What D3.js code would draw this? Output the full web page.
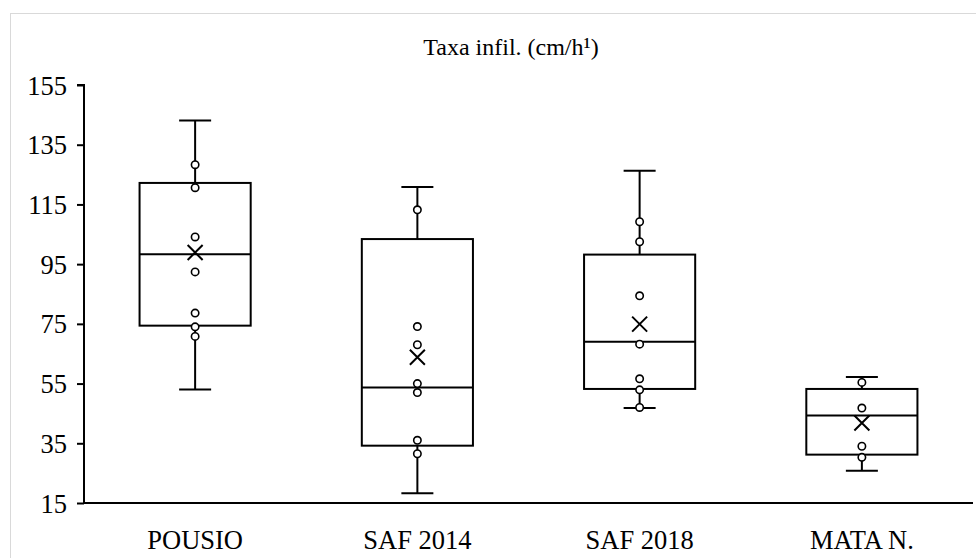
<!DOCTYPE html>
<html>
<head>
<meta charset="utf-8">
<script src="https://cdn.jsdelivr.net/npm/d3@7"></script>
<style>
  html, body { margin: 0; padding: 0; background: #fff; }
  svg { display: block; }
  text { font-family: "Liberation Serif", "Times New Roman", serif; fill: #000; }
</style>
</head>
<body>
<svg id="chart" width="976" height="558"></svg>
<script>
const titleText = "Taxa infil. (cm/h¹)";
const categories = ["POUSIO", "SAF 2014", "SAF 2018", "MATA N."];
const yTicks = [15, 35, 55, 75, 95, 115, 135, 155];

const minValues    = [53.0, 18.3, 46.8, 25.8];
const q1Values     = [74.4, 34.2, 53.2, 31.2];
const medianValues = [98.3, 53.7, 69.0, 44.3];
const q3Values     = [122.2, 103.4, 98.2, 53.2];
const maxValues    = [143.1, 120.8, 126.3, 57.2];
const meanValues   = [98.9, 63.8, 74.9, 41.8];

const pousioPoints  = [128.3, 120.6, 104.1, 92.4, 78.6, 74.0, 70.8];
const saf2014Points = [113.2, 74.1, 68.0, 55.0, 52.0, 36.0, 31.5];
const saf2018Points = [109.2, 102.5, 84.4, 68.2, 56.6, 52.9, 47.0];
const mataPoints    = [55.4, 46.8, 34.0, 30.3];
const innerPoints = [pousioPoints, saf2014Points, saf2018Points, mataPoints];

const svg = d3.select("#chart");
const W = 976, H = 558;
const margin = { left: 84, right: 3, top: 85, bottom: 55 };

// outer chart border
svg.append("rect")
  .attr("x", 10.5).attr("y", 13.5)
  .attr("width", W + 20).attr("height", H + 20)
  .attr("fill", "#fff").attr("stroke", "#d9d9d9").attr("stroke-width", 1);

const x = d3.scaleBand().domain(categories)
  .range([margin.left, W - margin.right]).padding(0);
const y = d3.scaleLinear().domain([15, 155])
  .range([H - margin.bottom, margin.top]);

// title
svg.append("text")
  .attr("x", 511).attr("y", 55)
  .attr("text-anchor", "middle")
  .attr("font-size", 24)
  .text(titleText);

// y axis
const yAxis = svg.append("g")
  .attr("transform", `translate(${margin.left},0)`)
  .call(d3.axisLeft(y).tickValues(yTicks).tickSize(7).tickPadding(10).tickFormat(d3.format("d")));
yAxis.selectAll("path, line").attr("stroke", "#000").attr("stroke-width", 2);
yAxis.select(".domain").attr("d", `M-7,${y(155)}H0V${y(15)}`);
yAxis.selectAll("text").attr("font-size", 26.5).attr("font-family", "Liberation Serif, serif").attr("dy", "0.34em");

// x axis
const xAxis = svg.append("g")
  .attr("transform", `translate(0,${y(15)})`)
  .call(d3.axisBottom(x).tickSize(0).tickPadding(27));
xAxis.select(".domain").attr("stroke", "#000").attr("stroke-width", 2)
  .attr("d", `M${margin.left},0H${W - margin.right}`);
xAxis.selectAll("text").attr("font-size", 26.5).attr("font-family", "Liberation Serif, serif");

const boxHalf = x.bandwidth() * 0.25;
const capHalf = 16;
const stroke = "#000";

categories.forEach((c, i) => {
  const cx = x(c) + x.bandwidth() / 2;
  const g = svg.append("g");
  // whiskers
  g.append("line").attr("x1", cx).attr("x2", cx)
    .attr("y1", y(maxValues[i])).attr("y2", y(q3Values[i]))
    .attr("stroke", stroke).attr("stroke-width", 2);
  g.append("line").attr("x1", cx).attr("x2", cx)
    .attr("y1", y(q1Values[i])).attr("y2", y(minValues[i]))
    .attr("stroke", stroke).attr("stroke-width", 2);
  // caps
  [maxValues[i], minValues[i]].forEach(v => {
    g.append("line").attr("x1", cx - capHalf).attr("x2", cx + capHalf)
      .attr("y1", y(v)).attr("y2", y(v))
      .attr("stroke", stroke).attr("stroke-width", 2);
  });
  // box
  g.append("rect")
    .attr("x", cx - boxHalf).attr("width", boxHalf * 2)
    .attr("y", y(q3Values[i])).attr("height", y(q1Values[i]) - y(q3Values[i]))
    .attr("fill", "#fff").attr("stroke", stroke).attr("stroke-width", 2);
  // median
  g.append("line").attr("x1", cx - boxHalf).attr("x2", cx + boxHalf)
    .attr("y1", y(medianValues[i])).attr("y2", y(medianValues[i]))
    .attr("stroke", stroke).attr("stroke-width", 2);
  // inner points
  g.selectAll("circle").data(innerPoints[i]).join("circle")
    .attr("cx", cx).attr("cy", d => y(d)).attr("r", 3.7)
    .attr("fill", "#fff").attr("stroke", stroke).attr("stroke-width", 1.6);
  // mean marker
  const my = y(meanValues[i]), s = 7.5;
  g.append("path")
    .attr("d", `M${cx - s},${my - s}L${cx + s},${my + s}M${cx - s},${my + s}L${cx + s},${my - s}`)
    .attr("stroke", stroke).attr("stroke-width", 2).attr("fill", "none");
});
</script>
</body>
</html>
